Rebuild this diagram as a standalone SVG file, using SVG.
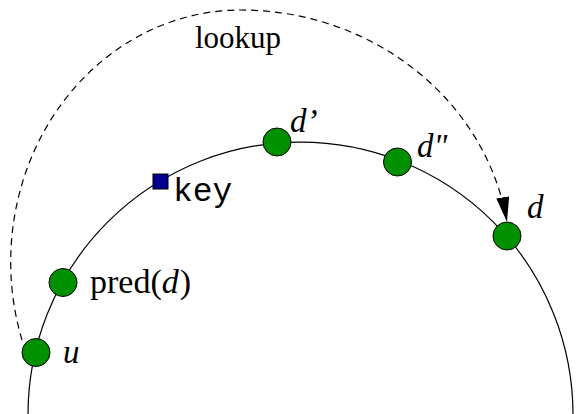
<svg xmlns="http://www.w3.org/2000/svg" width="579" height="414" viewBox="0 0 579 414">
<style>
.ring{fill:none;stroke:#000;stroke-width:1.2}
.dash{fill:none;stroke:#000;stroke-width:1.2;stroke-dasharray:7 5}
.node{fill:#009000;stroke:#000;stroke-width:1}
.key{fill:#00008f;stroke:#000;stroke-width:1}
.t{font-family:"Liberation Serif","Times New Roman",serif;font-size:31px;fill:#000}
.p{font-family:"Liberation Serif","Times New Roman",serif;font-size:34px;fill:#000}
.m{font-family:"Liberation Serif","Times New Roman",serif;font-size:33px;font-style:italic;fill:#000}
.mono{font-family:"Liberation Mono","Courier New",monospace;font-size:33px;fill:#000}
</style>
<defs>
<marker id="arr" markerUnits="userSpaceOnUse" markerWidth="26" markerHeight="14" refX="25" refY="6.5" orient="auto">
<path d="M0,0 L25,6.5 L0,13 z" fill="#000"/>
</marker>
</defs>
<g id="connectors">
<path id="ring" class="ring" d="M28,414.5 A272.5 272.5 0 0 1 573,414.5"/>
<path id="lookup-edge" class="dash" d="M22,340 A230 252 0 0 1 240,10 A270 252 0 0 1 507,222" marker-end="url(#arr)"/>
</g>
<text class="t" x="195" y="48">lookup</text>
<g id="node-u"><circle class="node" cx="36" cy="352.5" r="14"/><text class="m" x="63" y="363">u</text></g>
<g id="node-pred"><circle class="node" cx="63" cy="282.5" r="14"/><text class="p" x="90" y="293">pred(<tspan font-style="italic">d</tspan><tspan dx="1">)</tspan></text></g>
<g id="node-key"><rect class="key" x="153" y="174" width="15" height="15"/><text class="mono" x="173" y="201">key</text></g>
<g id="node-d1"><circle class="node" cx="277" cy="142" r="14"/><text class="m" x="290" y="132">d’</text></g>
<g id="node-d2"><circle class="node" cx="397.5" cy="162" r="14"/><text class="m" x="417" y="157">d"</text></g>
<g id="node-d"><circle class="node" cx="507" cy="236" r="14"/><text class="m" x="527" y="218">d</text></g>
</svg>
